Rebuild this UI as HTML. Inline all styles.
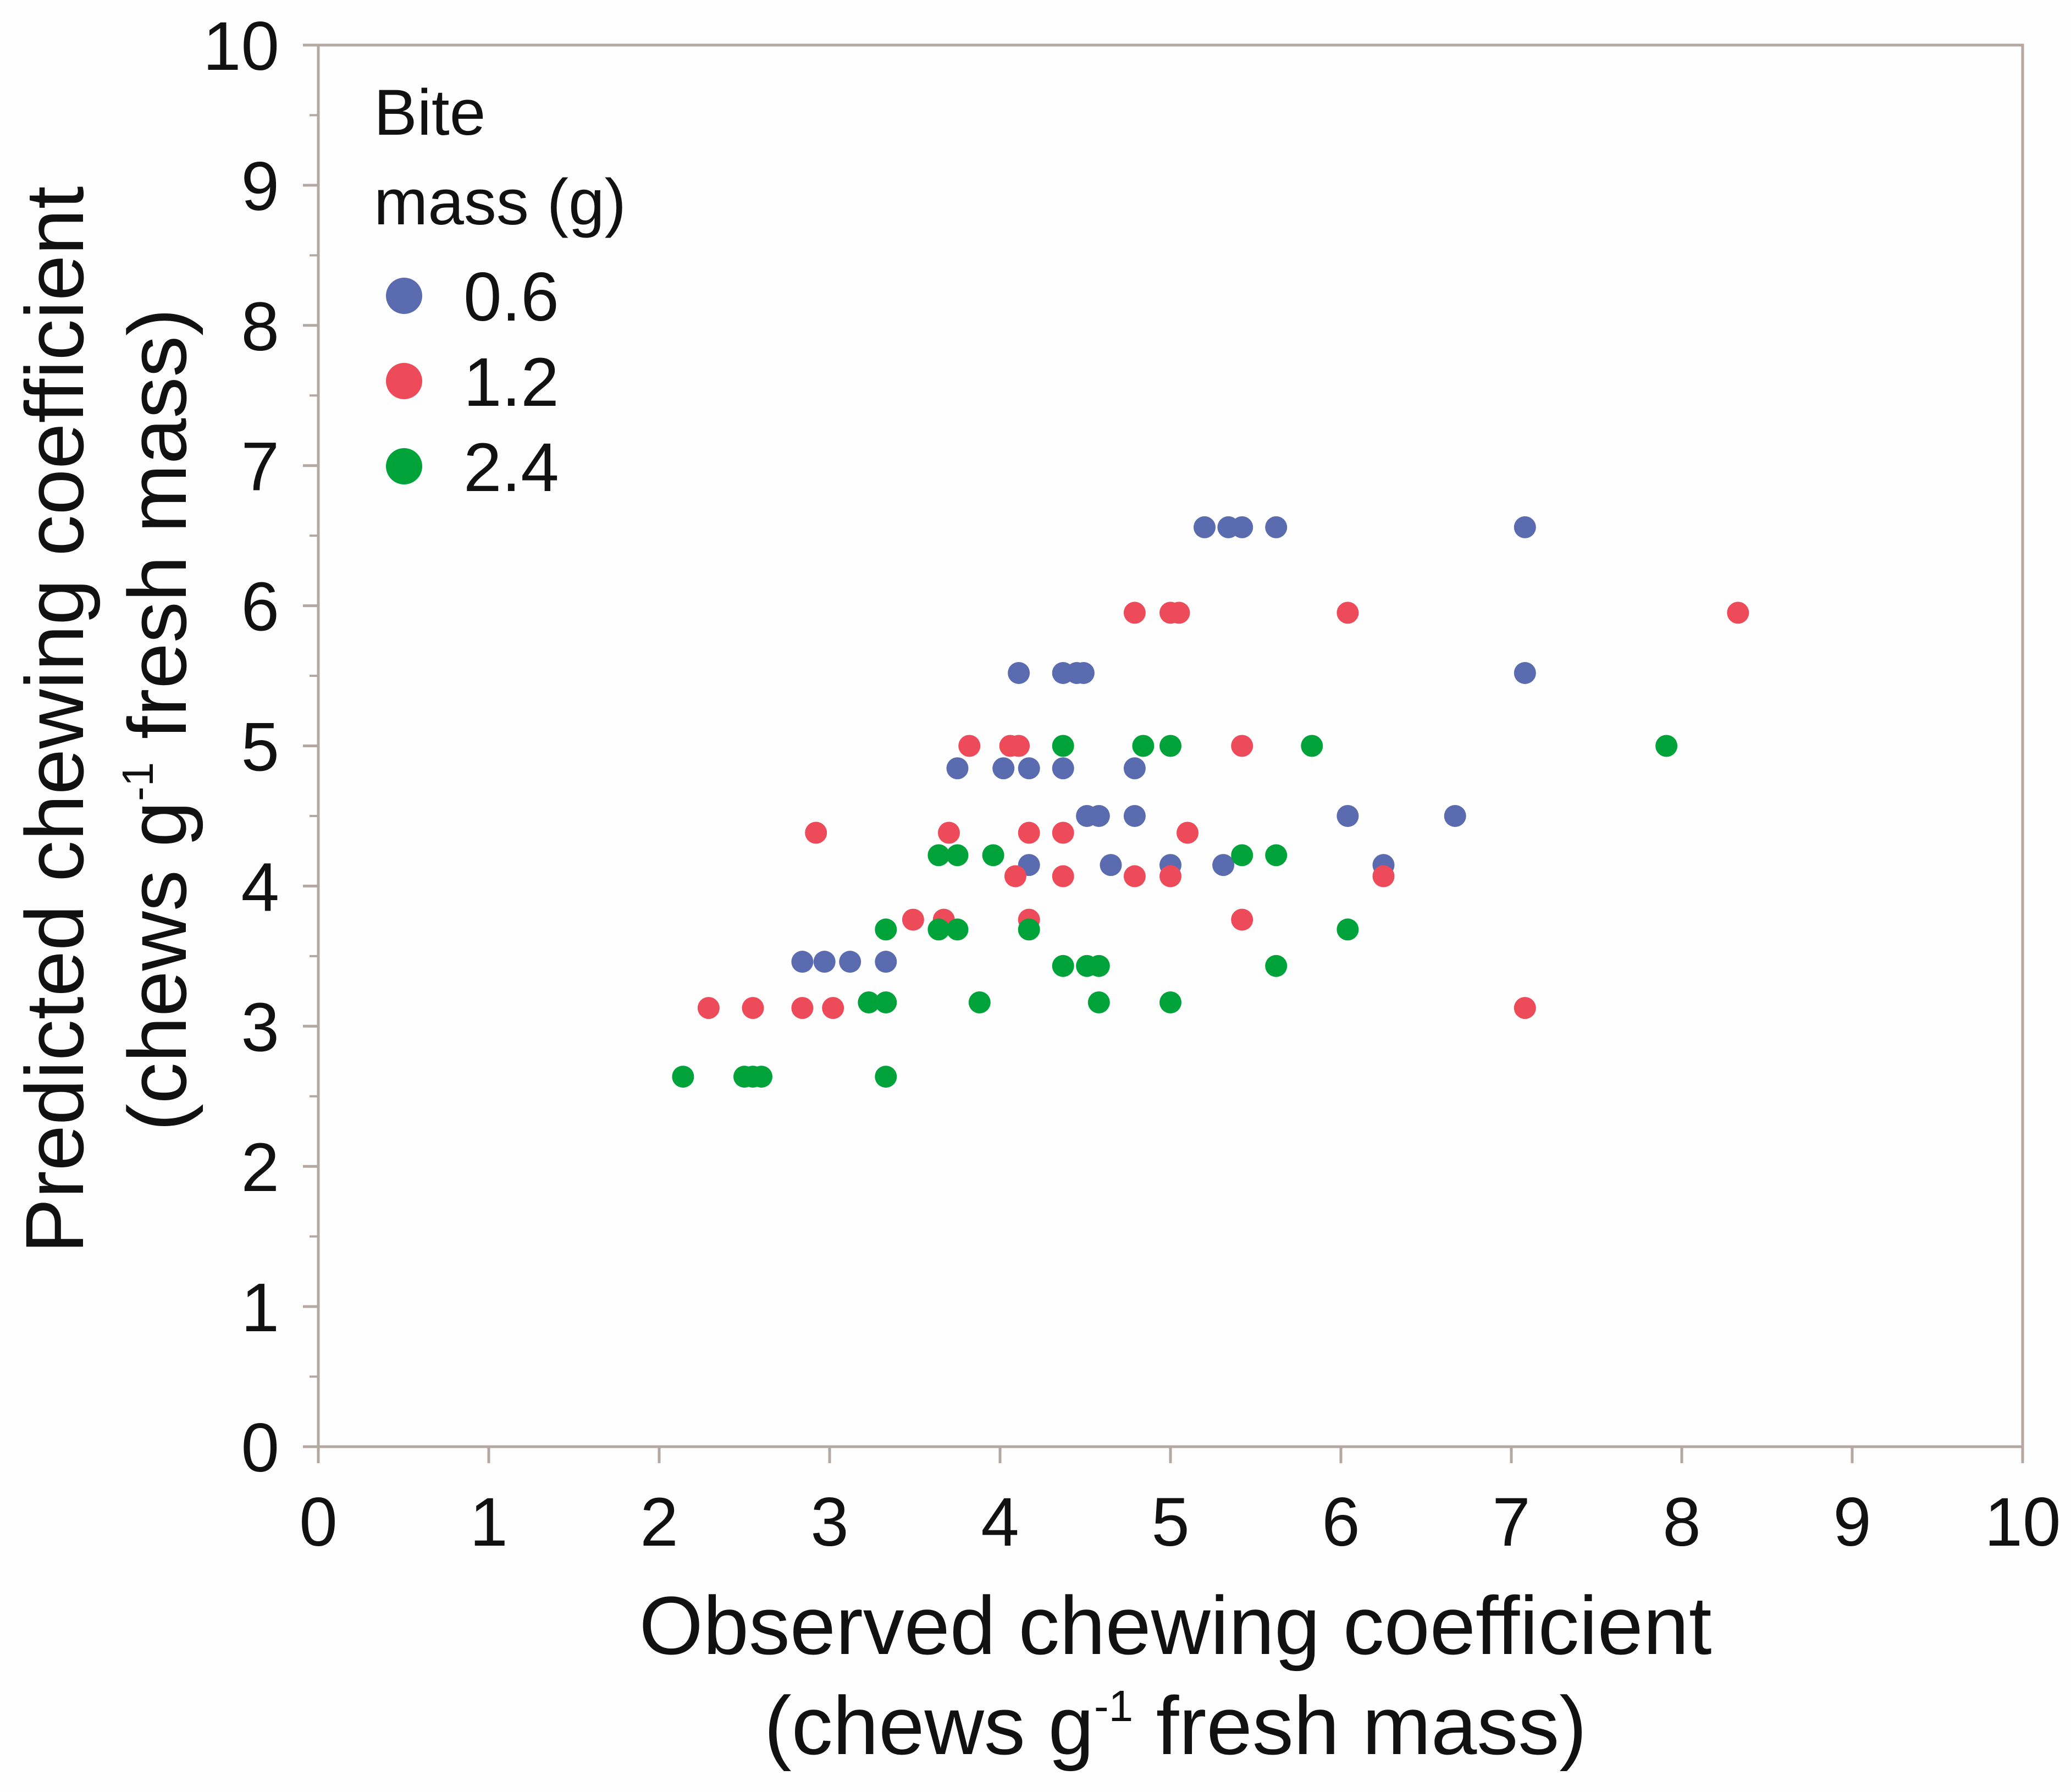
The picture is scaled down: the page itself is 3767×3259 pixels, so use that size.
<!DOCTYPE html>
<html><head><meta charset="utf-8"><style>
html,body{margin:0;padding:0;background:#fff}
svg{display:block}
text{font-family:"Liberation Sans",sans-serif;fill:#111}
</style></head><body>
<svg id="chart" width="3767" height="3259" viewBox="0 0 3767 3259" xmlns="http://www.w3.org/2000/svg">
<rect x="0" y="0" width="3767" height="3259" fill="#fefefe"/>
<g id="axes"></g>
<g id="points"></g>
<g id="legend">
<text x="680" y="245" font-size="118">Bite</text>
<text x="680" y="408" font-size="118">mass (g)</text>
</g>
<text transform="translate(101,1309) rotate(-90)" text-anchor="middle" font-size="150" dy="50" textLength="1941" lengthAdjust="spacingAndGlyphs">Predicted chewing coefficient</text>
<text transform="translate(288,1309) rotate(-90)" text-anchor="middle" font-size="150" dy="50">(chews g<tspan font-size="80" dy="-60">-1</tspan><tspan dy="60"> fresh mass)</tspan></text>
<text x="2138" y="3008" text-anchor="middle" font-size="150" textLength="1951" lengthAdjust="spacingAndGlyphs">Observed chewing coefficient</text>
<text x="2138" y="3190" text-anchor="middle" font-size="150">(chews g<tspan font-size="80" dy="-60">-1</tspan><tspan dy="60"> fresh mass)</tspan></text>
</svg>
<script>
const xTicks = [0,1,2,3,4,5,6,7,8,9,10];
const yTicks = [0,1,2,3,4,5,6,7,8,9,10];
const seriesNames = ["0.6","1.2","2.4"];
const seriesColors = ["#5a6bb0","#ee4b5a","#00a33a"];
const blueX = [5.20,5.34,5.42,5.62,7.08,7.08,4.11,4.37,4.45,4.49,3.75,4.02,4.17,4.37,4.79,4.51,4.58,4.79,6.04,6.67,4.17,4.65,5.0,5.31,6.25,2.84,2.97,3.12,3.33];
const blueY = [6.56,6.56,6.56,6.56,6.56,5.52,5.52,5.52,5.52,5.52,4.84,4.84,4.84,4.84,4.84,4.50,4.50,4.50,4.50,4.50,4.15,4.15,4.15,4.15,4.15,3.46,3.46,3.46,3.46];
const redX = [4.79,5.0,5.05,6.04,8.33,3.82,4.06,4.11,5.42,2.92,3.70,4.17,4.37,5.10,4.09,4.37,4.79,5.0,6.25,3.49,3.67,4.17,5.42,2.29,2.55,2.84,3.02,7.08];
const redY = [5.95,5.95,5.95,5.95,5.95,5.00,5.00,5.00,5.00,4.38,4.38,4.38,4.38,4.38,4.07,4.07,4.07,4.07,4.07,3.76,3.76,3.76,3.76,3.13,3.13,3.13,3.13,3.13];
const greenX = [4.37,4.84,5.0,5.83,7.91,3.64,3.75,3.96,5.42,5.62,3.33,3.64,3.75,4.17,6.04,4.37,4.51,4.58,5.62,3.23,3.33,3.88,4.58,5.0,2.14,2.50,2.55,2.60,3.33];
const greenY = [5.0,5.0,5.0,5.0,5.0,4.22,4.22,4.22,4.22,4.22,3.69,3.69,3.69,3.69,3.69,3.43,3.43,3.43,3.43,3.17,3.17,3.17,3.17,3.17,2.64,2.64,2.64,2.64,2.64];

const NS="http://www.w3.org/2000/svg";
const X0=579, X1=3679, Y0=2631, Y1=82;
const sx=v=>X0+(v-0)/(10-0)*(X1-X0);
const sy=v=>Y0-(v-0)/(10-0)*(Y0-Y1);
const axisColor="#b3a8a2";
function mk(tag,attrs,parent){const e=document.createElementNS(NS,tag);for(const k in attrs)e.setAttribute(k,attrs[k]);parent.appendChild(e);return e;}
const axes=document.getElementById('axes');
let frame=mk('rect',{x:X0,y:Y1,width:X1-X0,height:Y0-Y1,fill:'none',stroke:axisColor,'stroke-width':5},axes);


xTicks.forEach(t=>{
  const l=mk('line',{x1:sx(t),x2:sx(t),y1:Y0,y2:Y0+30,stroke:axisColor,'stroke-width':5},axes);
  
  
  const tx=mk('text',{x:sx(t),y:2811,'text-anchor':'middle','font-size':125},axes);
  
  
  tx.textContent=t;
});
yTicks.forEach(t=>{
  const l=mk('line',{x1:X0-28,x2:X0,y1:sy(t),y2:sy(t),stroke:axisColor,'stroke-width':5},axes);
  
  
  if(t<10){
    const m=mk('line',{x1:X0-16,x2:X0,y1:sy(t+0.5),y2:sy(t+0.5),stroke:axisColor,'stroke-width':4},axes);
    
    
  }
  const tx=mk('text',{x:508,y:sy(t)+45,'text-anchor':'end','font-size':125},axes);
  
  
  tx.textContent=t;
});
const pts=document.getElementById('points');
const sets=[[blueX,blueY],[redX,redY],[greenX,greenY]];
sets.forEach((s,i)=>{
  const g=mk('g',{},pts);
  
  
  s[0].forEach((xv,j)=>{
    const c=mk('circle',{cx:sx(xv),cy:sy(s[1][j]),r:20,fill:seriesColors[i]},g);
    
    
  });
});
const leg=document.getElementById('legend');
seriesNames.forEach((n,i)=>{
  const cy=538+i*155;
  const c=mk('circle',{cx:735,cy:cy,r:33,fill:seriesColors[i]},leg);
  
  
  const t=mk('text',{x:843,y:cy+45,'font-size':125},leg);
  
  
  t.textContent=n;
});
</script>
</body></html>
